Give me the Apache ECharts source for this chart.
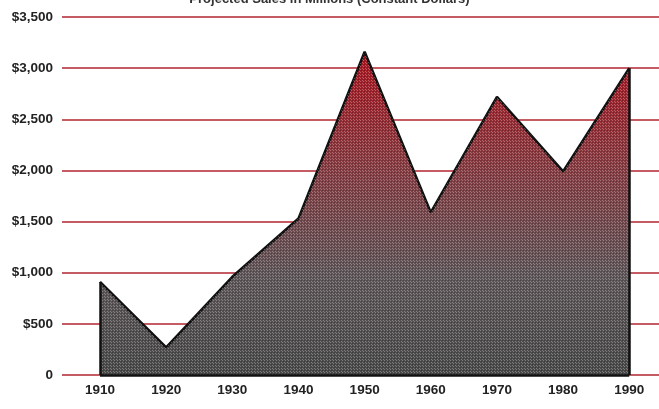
<!DOCTYPE html>
<html><head><meta charset="utf-8">
<script src="https://cdn.jsdelivr.net/npm/echarts@6/dist/echarts.min.js"></script>
<style>html,body{margin:0;padding:0;background:#fff}#c{width:659px;height:409px}</style>
</head><body><div id="c"></div>
<script>
const titleText = 'Projected Sales in Millions (Constant Dollars)';
const years = [1910, 1920, 1930, 1940, 1950, 1960, 1970, 1980, 1990];
const values = [910, 270, 960, 1530, 3160, 1590, 2720, 1990, 3000];
const yTicks = [0, 500, 1000, 1500, 2000, 2500, 3000, 3500];

const data = years.map((y, i) => [y, values[i]]);
const first = data[0], last = data[data.length - 1];

const chart = echarts.init(document.getElementById('c'), null, {renderer: 'canvas'});

// dither pattern overlay
const pc = document.createElement('canvas');
pc.width = 3; pc.height = 3;
const pctx = pc.getContext('2d');
pctx.fillStyle = 'rgba(255,255,255,0.28)';
pctx.fillRect(0, 0, 1, 1);
pctx.fillRect(2, 2, 1, 1);
pctx.fillStyle = 'rgba(0,0,0,0.18)';
pctx.fillRect(1, 1, 1, 1);

chart.setOption({
  animation: false,
  title: {
    text: titleText, left: 'center', top: -12,
    textStyle: {fontFamily: 'Liberation Sans', fontSize: 13, fontWeight: 'bold', color: '#333'}
  },
  grid: {left: 62, right: 0, top: 17, bottom: 34},
  xAxis: {
    type: 'value', min: 1904.25, max: 1994.5,
    splitLine: {show: false},
    axisLine: {show: false},
    axisTick: {show: false},
    axisLabel: {
      customValues: years,
      fontFamily: 'Liberation Sans', fontSize: 13.5, fontWeight: 'bold', color: '#222', margin: 8,
      formatter: v => String(v)
    }
  },
  yAxis: {
    type: 'value', min: 0, max: 3500, interval: 500,
    axisLine: {show: false},
    axisTick: {show: false},
    axisLabel: {
      fontFamily: 'Liberation Sans', fontSize: 13.5, fontWeight: 'bold', color: '#222', margin: 9,
      formatter: v => v === 0 ? '0' : '$' + v.toLocaleString('en-US')
    },
    splitLine: {lineStyle: {color: '#b3262f', width: 1.6}}
  },
  series: [
    {
      type: 'line', data: data, symbol: 'none', z: 3,
      lineStyle: {color: '#111', width: 2.5},
      areaStyle: {
        opacity: 1,
        color: {
          type: 'linear', x: 0, y: 52, x2: 0, y2: 375, global: true,
          colorStops: [
            {offset: 0, color: '#a8141f'},
            {offset: 0.35, color: '#853a40'},
            {offset: 0.7, color: '#5c5558'},
            {offset: 1, color: '#484848'}
          ]
        }
      },
      markLine: {
        silent: true, symbol: 'none', label: {show: false},
        lineStyle: {color: '#111', width: 2.5, type: 'solid'},
        data: [
          [{coord: [first[0], 0]}, {coord: [first[0], first[1]]}],
          [{coord: [last[0], 0]}, {coord: [last[0], last[1]]}],
          [{coord: [first[0], 0]}, {coord: [last[0], 0]}]
        ]
      }
    },
    {
      type: 'line', data: data, symbol: 'none', z: 4, silent: true,
      lineStyle: {width: 0},
      areaStyle: {opacity: 1, color: {image: pc, repeat: 'repeat'}}
    }
  ]
});
</script></body></html>
